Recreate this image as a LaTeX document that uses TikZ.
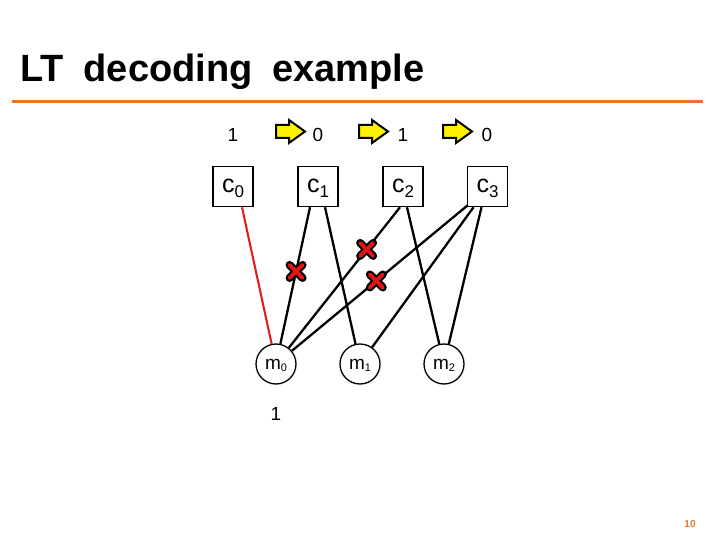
\documentclass[tikz,border=0pt]{standalone}
\usepackage{fontspec}
\setmainfont{Liberation Sans}
\usetikzlibrary{calc}
\definecolor{accent}{RGB}{224,118,40}
\definecolor{edgered}{RGB}{225,30,30}
\definecolor{xred}{RGB}{230,20,20}
\newcommand{\clab}[1]{{\fontsize{25}{25}\selectfont c}\raisebox{-5pt}{\fontsize{17}{17}\selectfont #1}}
\newcommand{\mlab}[1]{{\fontsize{19}{19}\selectfont m}\raisebox{-2pt}{\fontsize{11}{11}\selectfont #1}}
\tikzset{
  cbox/.style={draw=black, line width=1.5pt, rectangle, minimum width=40pt, minimum height=40pt, inner sep=0pt, text height=16pt, text depth=3pt},
  mnode/.style={draw=black, line width=1.3pt, circle, minimum size=40pt, inner sep=0pt, text height=12pt, text depth=2pt},
  bitlab/.style={anchor=base, inner sep=0pt, font=\fontsize{19}{19}\selectfont},
  titlelab/.style={anchor=base west, inner sep=0pt, font=\fontsize{38}{40}\selectfont\bfseries},
  edge/.style={draw=black, line width=2.3pt},
  rededge/.style={draw=edgered, line width=2.1pt},
  yarrow/.pic={\draw[fill=yellow, draw=black, line width=2pt, line join=miter]
     (0,-6.5) -- (13,-6.5) -- (13,-11.5) -- (29,0) -- (13,11.5) -- (13,6.5) -- (0,6.5) -- cycle;},
  xmark/.pic={
     \draw[black, line width=8pt, line cap=round] (-6.5,-6.5) -- (6.5,6.5) (-6.5,6.5) -- (6.5,-6.5);
     \draw[xred, line width=3.8pt, line cap=round] (-6.5,-6.5) -- (6.5,6.5) (-6.5,6.5) -- (6.5,-6.5);}
}
\begin{document}
\begin{tikzpicture}[x=1pt,y=-1pt]
\useasboundingbox (0,0) rectangle (720,540);
% title
\node[titlelab] (t1) at (20,82) {LT};
\node[titlelab] (t2) at (83.5,82) {decoding};
\node[titlelab] (t3) at (272,82) {example};
\draw[accent, line width=3pt] (12,101.5) -- (703,101.5);
% page number
\node[text=accent, font=\fontsize{10}{10}\selectfont\bfseries] (pg) at (690,524) {10};
% top bits
\node[bitlab] (b0) at (233,142) {1};
\node[bitlab] (b1) at (318,142) {0};
\node[bitlab] (b2) at (403,142) {1};
\node[bitlab] (b3) at (487,142) {0};
\pic at (276,131.5) {yarrow};
\pic at (359,131.5) {yarrow};
\pic at (443,131.5) {yarrow};
% check nodes
\node[cbox] (c0) at (233,186.5) {\clab{0}};
\node[cbox] (c1) at (318,186.5) {\clab{1}};
\node[cbox] (c2) at (403,186.5) {\clab{2}};
\node[cbox] (c3) at (487.5,186.5) {\clab{3}};
% message nodes
\node[mnode] (m0) at (276,364) {\mlab{0}};
\node[mnode] (m1) at (360,364) {\mlab{1}};
\node[mnode] (m2) at (444,364) {\mlab{2}};
\node[bitlab] (r0) at (276,420) {1};
% edges
\draw[rededge] ($(c0.south)+(9,0)$) -- (m0);
\draw[edge] ($(c1.south)+(-8,0)$) -- coordinate[pos=0.47] (x1) (m0);
\draw[edge] ($(c1.south)+(7,0)$) -- (m1);
\draw[edge] ($(c2.south)+(-3,0)$) -- coordinate[pos=0.30] (x2) (m0);
\draw[edge] ($(c2.south)+(4,0)$) -- (m2);
\draw[edge] ($(c3.south west)+(1,-2)$) -- coordinate[pos=0.52] (x3) (m0);
\draw[edge] ($(c3.south)+(-14,0)$) -- (m1);
\draw[edge] ($(c3.south)+(-6,0)$) -- (m2);
% erased edges
\pic at (x1) {xmark};
\pic at (x2) {xmark};
\pic at (x3) {xmark};
\end{tikzpicture}
\end{document}
